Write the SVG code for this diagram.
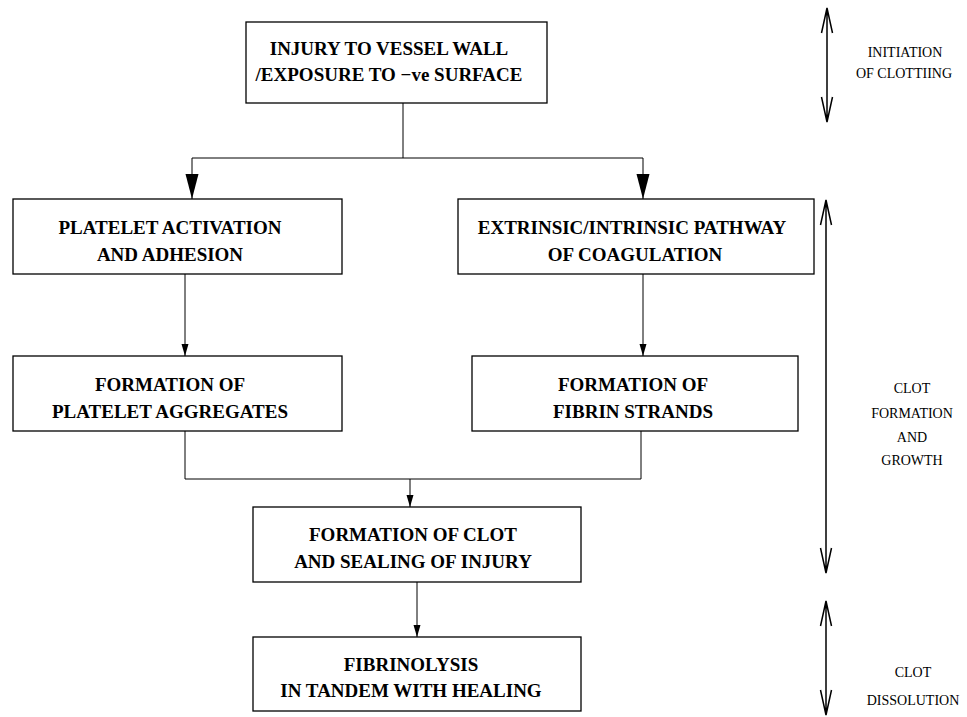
<svg xmlns="http://www.w3.org/2000/svg" width="967" height="717" viewBox="0 0 967 717">
<style>
.box{fill:#fff;stroke:#000;stroke-width:1.3}
.bt{font-family:"Liberation Serif","Times New Roman",Times,serif;font-weight:bold;font-size:19px;text-anchor:middle;fill:#000}
.lt{font-family:"Liberation Serif","Times New Roman",Times,serif;font-size:14px;text-anchor:middle;fill:#000}
.ln{fill:none;stroke:#000;stroke-width:1}
.da{fill:none;stroke:#000;stroke-width:1.5}
</style>
<defs>
<marker id="big" markerUnits="userSpaceOnUse" markerWidth="26" markerHeight="14" refX="25" refY="7" orient="auto" viewBox="0 0 26 14">
<path d="M0,0.5 L25,7 L0,13.5 Z" fill="#000"/>
</marker>
<marker id="sm" markerUnits="userSpaceOnUse" markerWidth="13" markerHeight="8" refX="12" refY="4" orient="auto" viewBox="0 0 13 8">
<path d="M0,0.5 L12,4 L0,7.5 Z" fill="#000"/>
</marker>
</defs>
<g id="connectors">
<path class="ln" d="M403,103 V158 M192,158 H643"/>
<path class="ln" d="M192,158 V199" marker-end="url(#big)"/>
<path class="ln" d="M643,158 V199" marker-end="url(#big)"/>
<path class="ln" d="M185,274 V356" marker-end="url(#sm)"/>
<path class="ln" d="M643,274 V356" marker-end="url(#sm)"/>
<path class="ln" d="M185,431 V479 H641 V431"/>
<path class="ln" d="M410,479 V507" marker-end="url(#sm)"/>
<path class="ln" d="M417,582 V637" marker-end="url(#sm)"/>
</g>
<g id="n_injury">
<rect class="box" x="246" y="22" width="301" height="81"/>
<text class="bt" x="389" y="55">INJURY TO VESSEL WALL</text>
<text class="bt" x="389" y="81">/EXPOSURE TO −ve SURFACE</text>
</g>
<g id="n_platelet">
<rect class="box" x="13" y="199" width="329" height="75"/>
<text class="bt" x="170" y="234">PLATELET ACTIVATION</text>
<text class="bt" x="170" y="261">AND ADHESION</text>
</g>
<g id="n_pathway">
<rect class="box" x="458" y="199" width="356" height="75"/>
<text class="bt" x="632" y="234">EXTRINSIC/INTRINSIC PATHWAY</text>
<text class="bt" x="635" y="261">OF COAGULATION</text>
</g>
<g id="n_aggregates">
<rect class="box" x="13" y="356" width="329" height="75"/>
<text class="bt" x="170" y="391">FORMATION OF</text>
<text class="bt" x="170" y="418">PLATELET AGGREGATES</text>
</g>
<g id="n_fibrin">
<rect class="box" x="472" y="356" width="326" height="75"/>
<text class="bt" x="633" y="391">FORMATION OF</text>
<text class="bt" x="633" y="418">FIBRIN STRANDS</text>
</g>
<g id="n_clot">
<rect class="box" x="253" y="507" width="328" height="75"/>
<text class="bt" x="413" y="541">FORMATION OF CLOT</text>
<text class="bt" x="413" y="568">AND SEALING OF INJURY</text>
</g>
<g id="n_fibrinolysis">
<rect class="box" x="253" y="637" width="328" height="74"/>
<text class="bt" x="411" y="671">FIBRINOLYSIS</text>
<text class="bt" x="411" y="697">IN TANDEM WITH HEALING</text>
</g>
<g id="phases">
<path class="da" d="M827,8 V122 M821.5,33 L827,8 L832.5,33 M821.5,97 L827,122 L832.5,97"/>
<text class="lt" x="905" y="57">INITIATION</text>
<text class="lt" x="904" y="78">OF CLOTTIING</text>
<path class="da" d="M826,200 V573 M820.5,225 L826,200 L831.5,225 M820.5,548 L826,573 L831.5,548"/>
<text class="lt" x="912" y="393">CLOT</text>
<text class="lt" x="912" y="418">FORMATION</text>
<text class="lt" x="912" y="442">AND</text>
<text class="lt" x="912" y="465">GROWTH</text>
<path class="da" d="M826,601 V715 M820.5,626 L826,601 L831.5,626 M820.5,690 L826,715 L831.5,690"/>
<text class="lt" x="913" y="677">CLOT</text>
<text class="lt" x="913" y="705">DISSOLUTION</text>
</g>
</svg>
